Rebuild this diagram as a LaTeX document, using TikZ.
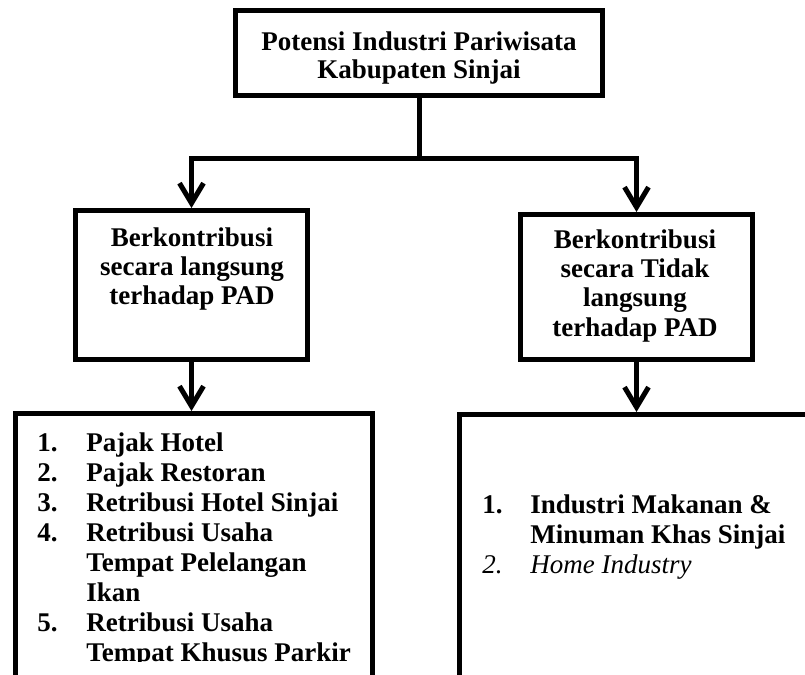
\documentclass[tikz,border=0pt]{standalone}
\usepackage{fontspec}
\setmainfont{Liberation Serif}
\usetikzlibrary{arrows.meta,positioning}
\tikzset{
 ptn box/.style={draw,rectangle,line width=2.5pt,inner sep=0pt,outer sep=1.25pt},
 ptn link/.style={line width=2.5pt},
 ptn arrow/.style={ptn link,-{Straight Barb[length=10pt,width=12pt]}},
 ptn text/.style={inner sep=0pt,font=\fontsize{13.5}{15}\selectfont\bfseries}
}
\begin{document}
\begin{tikzpicture}[x=0.5pt,y=-0.5pt]
 \clip (0,0) rectangle (805,675);
 % kotak
 \node[ptn box,minimum width=183.5pt,minimum height=42.5pt] (potensi) at (419,53) {};
 \node[ptn box,minimum width=116pt,minimum height=74.5pt] (langsung) at (191.5,285) {};
 \node[ptn box,minimum width=116pt,minimum height=72.5pt] (tidak) at (636.5,287) {};
 \node[ptn box,minimum width=178.5pt,minimum height=150pt] (daftarL) at (194,563.5) {};
 \node[ptn box,minimum width=200pt,minimum height=150pt] (daftarT) at (659.5,564.5) {};

 % teks
 \node[ptn text,anchor=base,font=\fontsize{13.5}{14}\selectfont\bfseries] (potensiTxt) at (419,50)
  {\begin{tabular}[t]{@{}c@{}}Potensi Industri Pariwisata\\Kabupaten Sinjai\end{tabular}};
 \node[ptn text,anchor=base,font=\fontsize{13.5}{14.5}\selectfont\bfseries] (langsungTxt) at (192,246)
  {\begin{tabular}[t]{@{}c@{}}Berkontribusi\\secara langsung\\terhadap PAD\end{tabular}};
 \node[ptn text,anchor=base,font=\fontsize{13.5}{14.7}\selectfont\bfseries] (tidakTxt) at (635,248)
  {\begin{tabular}[t]{@{}c@{}}Berkontribusi\\secara Tidak\\langsung\\terhadap PAD\end{tabular}};
 \begin{scope}
  \clip (0,411) rectangle (805,661);
  \node[ptn text,anchor=base west] (daftarLTxt) at (37,451)
   {\begin{tabular}[t]{@{}p{24.5pt}@{}l@{}}
    1.&Pajak Hotel\\
    2.&Pajak Restoran\\
    3.&Retribusi Hotel Sinjai\\
    4.&Retribusi Usaha\\
      &Tempat Pelelangan\\
      &Ikan\\
    5.&Retribusi Usaha\\
      &Tempat Khusus Parkir
   \end{tabular}};
 \end{scope}
 \node[ptn text,anchor=base west] (daftarTTxt) at (482,513)
  {\begin{tabular}[t]{@{}p{24pt}@{}l@{}}
   1.&Industri Makanan \&\\
     &Minuman Khas Sinjai\\
   \mdseries\itshape 2.&\mdseries\itshape Home Industry
  \end{tabular}};

 % panah
 \coordinate (garis) at (0,158);
 \coordinate (cabang) at (potensi.south |- garis);
 \draw[ptn link] (potensi.south) -- (cabang);
 \draw[ptn arrow] (cabang) -| (langsung.north);
 \draw[ptn arrow] (cabang) -| (tidak.north);
 \draw[ptn arrow] (langsung.south) -- (langsung.south |- daftarL.north);
 \draw[ptn arrow] (tidak.south) -- (tidak.south |- daftarT.north);
\end{tikzpicture}
\end{document}
